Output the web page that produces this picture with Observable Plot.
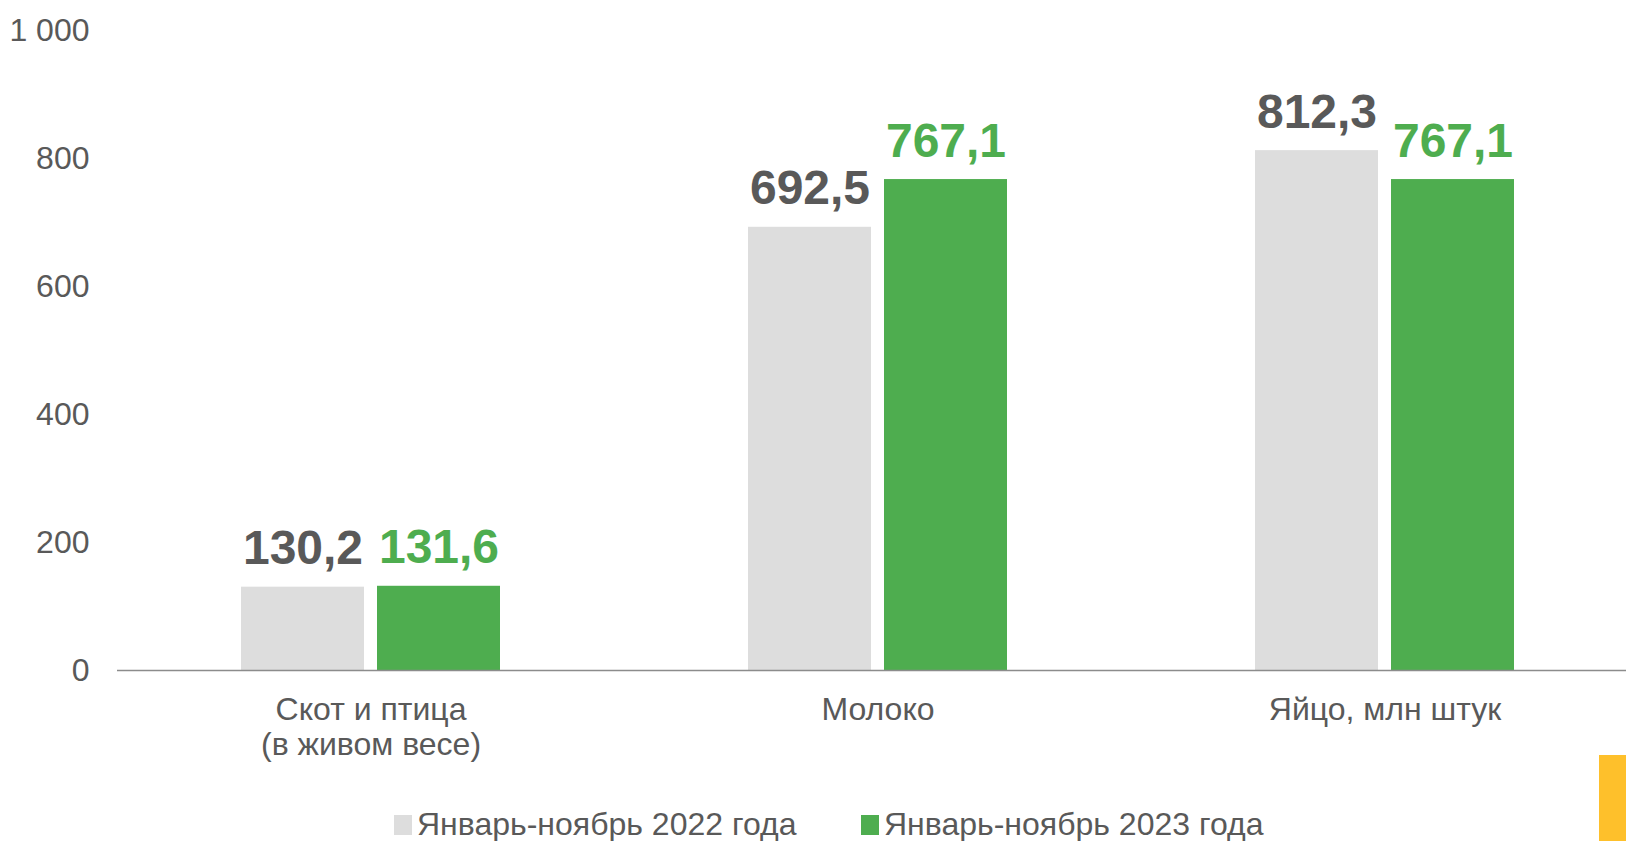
<!DOCTYPE html>
<html>
<head>
<meta charset="utf-8">
<script src="https://cdn.jsdelivr.net/npm/d3@7"></script>
<script src="https://cdn.jsdelivr.net/npm/@observablehq/plot@0.6"></script>
<style>
  html, body { margin: 0; padding: 0; background: #fff; }
  body { width: 1626px; height: 841px; position: relative; overflow: hidden; font-family: "Liberation Sans", Arial, sans-serif; }
  #chart { position: absolute; left: 0; top: 0; }
  .leg { position: absolute; top: 808px; height: 33px; display: flex; align-items: center; font-size: 32px; color: #595959; white-space: nowrap; }
  .sw { width: 18px; height: 20px; margin-right: 5px; }
  #deco { position: absolute; left: 1599px; top: 755px; width: 27px; height: 86px; background: #FEC02B; }
</style>
</head>
<body>
<div id="chart"></div>
<div id="legend"></div>
<div id="deco"></div>
<script>
const categories = ["Скот и птица\n(в живом весе)", "Молоко", "Яйцо, млн штук"];
const series = ["Январь-ноябрь 2022 года", "Январь-ноябрь 2023 года"];
const values2022 = [130.2, 692.5, 812.3];
const values2023 = [131.6, 767.1, 767.1];
const yTicks = [0, 200, 400, 600, 800, 1000];
const colors = ["#DDDDDD", "#4EAD4F"];
const labelColors = ["#595959", "#4EAD4F"];

const data = [];
categories.forEach((c, i) => {
  data.push({category: c, series: series[0], value: values2022[i]});
  data.push({category: c, series: series[1], value: values2023[i]});
});

const ru = d3.formatLocale({decimal: ",", thousands: "\u00a0", grouping: [3], currency: ["", ""]});
const fmtTick = ru.format(",d");
const fmtVal = d => d.toFixed(1).replace(".", ",");

const H = 800;
const chart = Plot.plot({
  width: 1626,
  height: H,
  marginTop: 30,
  marginBottom: H - 670,
  marginLeft: 117,
  marginRight: 0,
  style: {fontFamily: "'Liberation Sans', Arial, sans-serif", background: "transparent"},
  fx: {domain: categories, range: [117, 1638], paddingInner: 0, paddingOuter: 0, label: null},
  x: {domain: series, paddingInner: 0.095, paddingOuter: 0.9, axis: null},
  y: {domain: [0, 1000], label: null},
  color: {domain: series, range: colors},
  marks: [
    Plot.axisY({ticks: yTicks, tickFormat: fmtTick, tickSize: 0, tickPadding: 28, fontSize: 32, fill: "#595959", label: null}),
    Plot.axisFx({anchor: "bottom", tickSize: 0, tickPadding: 24, fontSize: 32, fill: "#595959", lineHeight: 1.1, label: null}),
    Plot.barY(data, {fx: "category", x: "series", y: "value", fill: "series"}),
    Plot.ruleY([0], {stroke: "#8C8C8C", strokeWidth: 1.5}),
    Plot.text(data, {fx: "category", x: "series", y: "value", text: d => fmtVal(d.value),
      fill: d => labelColors[series.indexOf(d.series)], fontSize: 48, fontWeight: "bold",
      lineAnchor: "bottom", dy: -23})
  ]
});
document.getElementById("chart").appendChild(chart);

const legendPos = [394, 861];
const leg = document.getElementById("legend");
series.forEach((s, i) => {
  const item = document.createElement("div");
  item.className = "leg";
  item.style.left = legendPos[i] + "px";
  const sw = document.createElement("div");
  sw.className = "sw";
  sw.style.background = colors[i];
  const t = document.createElement("span");
  t.textContent = s;
  item.appendChild(sw);
  item.appendChild(t);
  leg.appendChild(item);
});
</script>
</body>
</html>
